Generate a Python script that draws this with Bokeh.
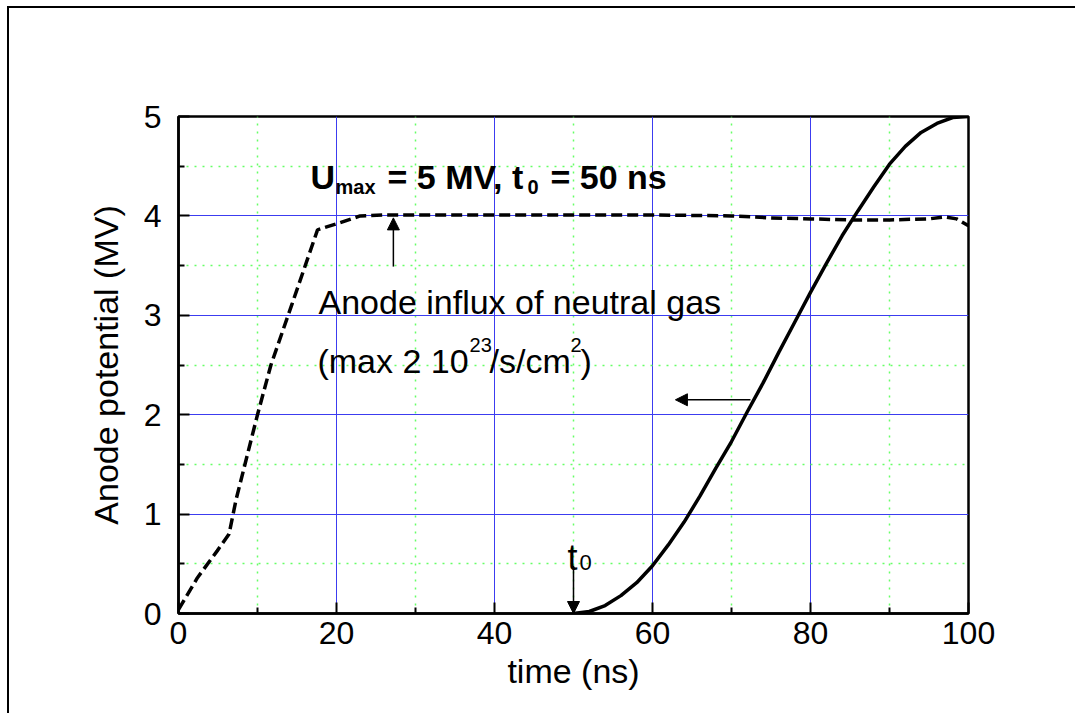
from bokeh.plotting import figure
from bokeh.models import (Range1d, FixedTicker, Label, Arrow, NormalHead,
                          InlineStyleSheet)
from bokeh.embed import file_html
from bokeh.resources import INLINE

# Applied anode voltage (solid) after t0
pulse_t = [50, 52, 54, 56, 58, 60, 62, 64, 66, 68, 70, 72, 74, 76, 78, 80,
           82, 84, 86, 88, 90, 92, 94, 96, 98, 100]
pulse_u = [0.0, 0.02, 0.08, 0.18, 0.31, 0.48, 0.69, 0.92, 1.18, 1.46, 1.73,
           2.03, 2.32, 2.63, 2.93, 3.23, 3.52, 3.80, 4.05, 4.29, 4.52, 4.70,
           4.84, 4.93, 4.99, 5.0]

# Neutral-gas influx profile (dashed), on the same vertical scale
gas_t = [0, 2.4, 4.9, 6.4, 7.3, 10.0, 11.7, 14.4, 17.6, 20, 23, 26, 30, 40,
         50, 60, 70, 75, 80, 85, 90, 95, 97, 98.5, 100]
gas_u = [0.04, 0.36, 0.63, 0.80, 1.15, 2.0, 2.5, 3.12, 3.86, 3.92, 4.0, 4.01,
         4.01, 4.01, 4.01, 4.01, 4.0, 3.98, 3.97, 3.96, 3.96, 3.97, 3.99, 3.97,
         3.90]

# Axis ticks
x_major = [0, 20, 40, 60, 80, 100]
x_minor = [10, 30, 50, 70, 90]
y_major = [0, 1, 2, 3, 4, 5]
y_minor = [0.5, 1.5, 2.5, 3.5, 4.5]

FONT = "Liberation Sans"

p = figure(width=1075, height=713, output_backend="svg", toolbar_location=None,
           x_range=Range1d(0, 100), y_range=Range1d(0, 5),
           min_border_left=178, min_border_right=107,
           min_border_top=116, min_border_bottom=100,
           background_fill_color="white", border_fill_color="white")

# page frame: left and top edges drawn as an inset shadow
p.stylesheets = [InlineStyleSheet(css=(
    ":host::after { content: ''; position: absolute; left: 7px; top: 6px;"
    " width: 1068px; height: 707px; box-sizing: border-box;"
    " background: transparent; box-shadow: inset 2px 2px 0 0 black;"
    " pointer-events: none; z-index: 100; display: block; }"))]

p.xaxis.ticker = FixedTicker(ticks=x_major, minor_ticks=x_minor)
p.yaxis.ticker = FixedTicker(ticks=y_major, minor_ticks=y_minor)

for ax in (p.xaxis, p.yaxis):
    ax.axis_line_width = 2.5
    ax.axis_line_color = "black"
    ax.major_tick_in = 11
    ax.major_tick_out = 0
    ax.minor_tick_in = 6
    ax.minor_tick_out = 0
    ax.major_tick_line_width = 2
    ax.minor_tick_line_width = 2
    ax.major_label_text_font = FONT
    ax.major_label_text_font_size = "32px"
    ax.major_label_text_color = "black"
    ax.axis_label_text_font = FONT
    ax.axis_label_text_font_size = "34px"
    ax.axis_label_text_font_style = "normal"
    ax.axis_label_text_color = "black"

p.xaxis.axis_label = "time (ns)"
p.yaxis.axis_label = "Anode potential (MV)"
p.xaxis.major_label_standoff = 8
p.xaxis.axis_label_standoff = 5
p.yaxis.major_label_standoff = 17
p.yaxis.axis_label_standoff = 16

for g in (p.xgrid, p.ygrid):
    g.grid_line_color = "#3c3cf0"
    g.grid_line_width = 1
    g.minor_grid_line_color = "#66ff66"
    g.minor_grid_line_dash = "2 6"
    g.minor_grid_line_width = 1.5

p.outline_line_color = "black"
p.outline_line_width = 2.5

p.line(gas_t, gas_u, line_color="black", line_width=3.5, line_dash="11 5")
p.line(pulse_t, pulse_u, line_color="black", line_width=3.5)


def lab(x, y, text, size, bold=False):
    p.add_layout(Label(x=x, y=y, text=text, text_font=FONT,
                       text_font_size=size,
                       text_font_style="bold" if bold else "normal",
                       text_color="black", text_baseline="alphabetic",
                       text_align="left"))


# Heading: U_max = 5 MV, t_0 = 50 ns
lab(16.71, 4.396, "U", "34px", True)
lab(19.87, 4.29, "max", "20px", True)
lab(26.46, 4.396, "= 5 MV, t", "34px", True)
lab(44.18, 4.29, "0", "20px", True)
lab(47.09, 4.396, "= 50 ns", "34px", True)

# Gas influx annotation
lab(17.72, 3.129, "Anode influx of neutral gas", "34px")
lab(17.59, 2.545, "(max 2 10", "34px")
lab(36.84, 2.70, "23", "20px")
lab(39.37, 2.545, "/s/cm", "34px")
lab(49.62, 2.70, "2", "20px")
lab(50.89, 2.545, ")", "34px")

# t0 marker
lab(49.24, 0.563, "t", "36px")
lab(50.75, 0.51, "0", "22px")


def arrow(x0, y0, x1, y1):
    p.add_layout(Arrow(x_start=x0, y_start=y0, x_end=x1, y_end=y1,
                       line_color="black", line_width=1.5,
                       end=NormalHead(size=12, fill_color="black",
                                      line_color="black", line_width=1)))


arrow(27.2, 3.49, 27.2, 3.98)
arrow(72.4, 2.15, 62.9, 2.15)
arrow(50.0, 0.48, 50.0, 0.0)

open("out.html", "w").write(file_html(p, INLINE))
